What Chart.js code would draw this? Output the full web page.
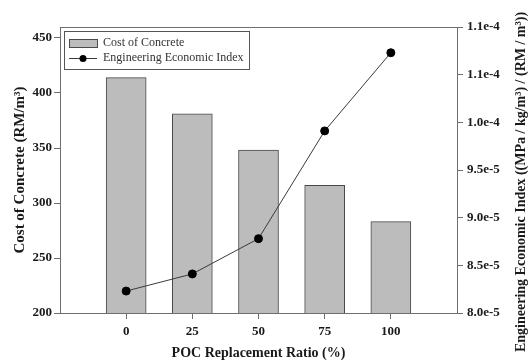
<!DOCTYPE html>
<html>
<head>
<meta charset="utf-8">
<script src="https://cdn.jsdelivr.net/npm/chart.js@4/dist/chart.umd.min.js"></script>
<style>
  html, body { margin: 0; padding: 0; background: #fff; }
  #wrap { width: 528px; height: 362px; position: relative; }
</style>
</head>
<body>
<div id="wrap"><canvas id="c" width="528" height="362"></canvas></div>
<script>
// POC replacement ratios (%)
const ratios = [0, 25, 50, 75, 100];
// Cost of concrete (RM/m3)
const costValues = [414, 381, 348, 316, 283];
// Engineering economic index ((MPa / kg/m3) / (RM / m3))
const indexValues = [8.23e-5, 8.41e-5, 8.78e-5, 9.91e-5, 1.073e-4];
// Axis ticks
const xTicks = [0, 25, 50, 75, 100];
const costTicks = [200, 250, 300, 350, 400, 450];
const indexTicks = [8.0e-5, 8.5e-5, 9.0e-5, 9.5e-5, 1.0e-4, 1.05e-4, 1.1e-4];
const indexTickLabels = ['8.0e-5', '8.5e-5', '9.0e-5', '9.5e-5', '1.0e-4', '1.1e-4', '1.1e-4'];
const rightTitle = 'Engineering Economic Index ((MPa / kg/m³) / (RM / m³))';

const AXIS = '#6e6e6e';
const SERIF = '"Liberation Serif", "Times New Roman", serif';
const tickFont = { family: SERIF, size: 13, weight: 'bold' };
const titleFont = { family: SERIF, size: 14, weight: 'bold' };

// Top frame edge, right-axis title (reads bottom to top) and in-plot legend box
const framePlugin = {
  id: 'frame',
  afterDraw(chart) {
    const ctx = chart.ctx, a = chart.chartArea;
    ctx.save();
    ctx.strokeStyle = AXIS;
    ctx.lineWidth = 1;
    ctx.beginPath();
    ctx.moveTo(a.left, a.top + 0.5);
    ctx.lineTo(a.right, a.top + 0.5);
    ctx.stroke();

    // right axis title
    ctx.save();
    ctx.translate(521, 182);
    ctx.rotate(-Math.PI / 2);
    ctx.font = 'bold 14px ' + SERIF;
    ctx.fillStyle = '#1a1a1a';
    ctx.textAlign = 'center';
    ctx.textBaseline = 'middle';
    ctx.fillText(rightTitle, 0, 0);
    ctx.restore();

    // legend
    const ds = chart.data.datasets;
    const bx = a.left + 4, by = a.top + 4, bw = 185, bh = 38;
    ctx.fillStyle = '#fff';
    ctx.fillRect(bx, by, bw, bh);
    ctx.strokeStyle = '#555';
    ctx.strokeRect(bx + 0.5, by + 0.5, bw, bh);

    ctx.font = '12px ' + SERIF;
    ctx.textBaseline = 'middle';
    ctx.textAlign = 'left';
    ctx.fillStyle = ds[0].backgroundColor;
    ctx.fillRect(bx + 5, by + 8, 28, 8);
    ctx.strokeStyle = ds[0].borderColor;
    ctx.strokeRect(bx + 5.5, by + 8.5, 28, 8);
    ctx.fillStyle = '#333';
    ctx.fillText(ds[0].label, bx + 39, by + 12);
    ctx.strokeStyle = ds[1].borderColor;
    ctx.beginPath();
    ctx.moveTo(bx + 5, by + 27.5);
    ctx.lineTo(bx + 33, by + 27.5);
    ctx.stroke();
    ctx.fillStyle = '#000';
    ctx.beginPath();
    ctx.arc(bx + 19, by + 27.5, 3.5, 0, Math.PI * 2);
    ctx.fill();
    ctx.fillStyle = '#333';
    ctx.fillText(ds[1].label, bx + 39, by + 27);
    ctx.restore();
  }
};

new Chart(document.getElementById('c'), {
  data: {
    datasets: [
      {
        type: 'bar',
        label: 'Cost of Concrete',
        data: ratios.map((r, i) => ({ x: r, y: costValues[i] })),
        backgroundColor: '#bcbcbc',
        borderColor: '#4a4a4a',
        borderWidth: 1,
        barThickness: 40,
        xAxisID: 'x',
        yAxisID: 'y',
        order: 2
      },
      {
        type: 'line',
        label: 'Engineering Economic Index',
        data: ratios.map((r, i) => ({ x: r, y: indexValues[i] })),
        borderColor: '#3a3a3a',
        borderWidth: 1,
        pointBackgroundColor: '#000',
        pointBorderColor: '#000',
        pointRadius: 4,
        tension: 0,
        xAxisID: 'x',
        yAxisID: 'y1',
        order: 1
      }
    ]
  },
  options: {
    responsive: false,
    animation: false,
    layout: { padding: { top: 27, left: 0, right: 0, bottom: 0 } },
    plugins: { legend: { display: false }, tooltip: { enabled: false } },
    scales: {
      x: {
        type: 'linear',
        offset: false,
        min: -25,
        max: 125,
        afterBuildTicks: s => { s.ticks = xTicks.map(v => ({ value: v })); },
        afterFit: s => { s.height = 49; },
        grid: { offset: false, drawOnChartArea: false, drawTicks: true, tickLength: 6, color: AXIS },
        border: { color: AXIS, width: 1 },
        ticks: { font: tickFont, color: '#1a1a1a', padding: 5, callback: v => String(v) },
        title: { display: true, text: 'POC Replacement Ratio (%)', font: titleFont, color: '#1a1a1a', padding: { top: 3, bottom: 0 } }
      },
      y: {
        type: 'linear',
        position: 'left',
        min: 200,
        max: 460,
        afterBuildTicks: s => { s.ticks = costTicks.map(v => ({ value: v })); },
        afterFit: s => { s.width = 60; },
        grid: { drawOnChartArea: false, drawTicks: true, tickLength: 6, color: AXIS },
        border: { color: AXIS, width: 1 },
        ticks: { font: tickFont, color: '#1a1a1a', padding: 2 },
        title: { display: true, text: 'Cost of Concrete (RM/m³)', font: { family: SERIF, size: 15, weight: 'bold' }, color: '#1a1a1a', padding: { top: 11, bottom: 0 } }
      },
      y1: {
        type: 'linear',
        position: 'right',
        min: 8.0e-5,
        max: 1.1e-4,
        afterBuildTicks: s => { s.ticks = indexTicks.map(v => ({ value: v })); },
        afterFit: s => { s.width = 71; },
        grid: { drawOnChartArea: false, drawTicks: true, tickLength: 6, color: AXIS },
        border: { color: AXIS, width: 1 },
        ticks: {
          font: tickFont, color: '#1a1a1a', padding: 4,
          callback: (v, i) => indexTickLabels[i]
        }
      }
    }
  },
  plugins: [framePlugin]
});
</script>
</body>
</html>
